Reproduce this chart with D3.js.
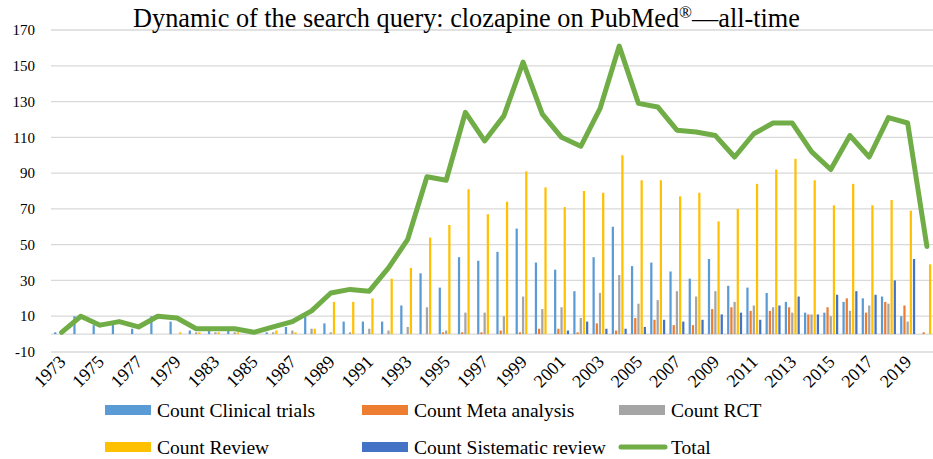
<!DOCTYPE html>
<html lang="en">
<head>
<meta charset="UTF-8">
<title>Dynamic of the search query: clozapine on PubMed</title>
<script src="https://d3js.org/d3.v7.min.js"></script>
<style>
  body { margin: 0; background: #fff; }
  svg { display: block; font-family: "Liberation Serif", "DejaVu Serif", serif; }
  .grid line { stroke: #d9d9d9; stroke-width: 1.3; }
  .axis-label { font-size: 15px; fill: #000; }
  .x-label { font-size: 18px; fill: #000; }
  .legend text { font-size: 19.5px; fill: #000; }
</style>
</head>
<body>
<svg width="933" height="459"></svg>
<script>
  // Datos (faltan 1980 y 1982 en el eje de categorías)
  const years = [1973, 1974, 1975, 1976, 1977, 1978, 1979, 1981, 1983, 1984, 1985, 1986, 1987, 1988,
    1989, 1990, 1991, 1992, 1993, 1994, 1995, 1996, 1997, 1998, 1999, 2000, 2001, 2002, 2003, 2004,
    2005, 2006, 2007, 2008, 2009, 2010, 2011, 2012, 2013, 2014, 2015, 2016, 2017, 2018, 2019, 2020];

  const clinicalTrials = [1, 10, 5, 6, 3, 10, 7, 2, 2, 2, 0, 1, 4, 10,
    6, 7, 7, 7, 16, 34, 26, 43, 41, 46, 59, 40, 36, 24, 43, 60,
    38, 40, 35, 31, 42, 27, 26, 23, 18, 12, 12, 18, 20, 21, 10, 0];
  const metaAnalysis = [0, 0, 0, 0, 0, 0, 0, 0, 0, 0, 0, 0, 0, 0,
    0, 0, 0, 0, 0, 0, 1, 1, 1, 2, 1, 3, 3, 1, 6, 2,
    9, 8, 5, 5, 14, 15, 13, 13, 15, 11, 15, 20, 12, 18, 16, 1];
  const rct = [0, 0, 0, 0, 0, 0, 0, 1, 1, 1, 0, 1, 2, 3,
    1, 1, 3, 2, 4, 15, 2, 12, 12, 10, 21, 14, 15, 9, 23, 33,
    17, 19, 24, 21, 24, 18, 16, 15, 12, 11, 10, 13, 16, 17, 7, 0];
  const review = [0, 0, 0, 0, 0, 0, 1, 1, 1, 1, 0, 2, 1, 3,
    18, 18, 20, 31, 37, 54, 61, 81, 67, 74, 91, 82, 71, 80, 79, 100,
    86, 86, 77, 79, 63, 70, 84, 92, 98, 86, 72, 84, 72, 75, 69, 39];
  const sistematicReview = [0, 0, 0, 0, 0, 0, 0, 0, 0, 0, 0, 0, 0, 0,
    0, 0, 0, 0, 0, 0, 0, 0, 0, 0, 0, 0, 2, 7, 3, 3,
    4, 8, 7, 8, 11, 12, 8, 16, 21, 11, 22, 24, 22, 30, 42, 0];
  const total = [1, 10, 5, 7, 4, 10, 9, 3, 3, 3, 1, 4, 7, 13,
    23, 25, 24, 37, 53, 88, 86, 124, 108, 122, 152, 123, 110, 105, 126, 161,
    129, 127, 114, 113, 111, 99, 112, 118, 118, 102, 92, 111, 99, 121, 118, 49];

  const yTicks = [-10, 10, 30, 50, 70, 90, 110, 130, 150, 170];

  const seriesNames = ["Count Clinical trials", "Count Meta analysis", "Count RCT",
    "Count Review", "Count Sistematic review"];
  const seriesValues = [clinicalTrials, metaAnalysis, rct, review, sistematicReview];
  const colors = ["#5b9bd5", "#ed7d31", "#a5a5a5", "#ffc000", "#4472c4"];
  const totalColor = "#70ad47";

  const svg = d3.select("svg");

  // Área del gráfico (el borde derecho queda recortado como en la imagen original)
  const plot = {left: 52, right: 936.5, top: 30, bottom: 352};

  const x0 = d3.scaleBand()
    .domain(years)
    .range([plot.left, plot.right])
    .padding(0);

  const groupWidth = 15;
  const x1 = d3.scaleBand()
    .domain(seriesNames)
    .range([0, groupWidth])
    .paddingInner(0.3);

  const y = d3.scaleLinear()
    .domain([-10, 170])
    .range([plot.bottom, plot.top]);

  // Líneas de cuadrícula
  const grid = svg.append("g").attr("class", "grid");
  grid.selectAll("line.g")
    .data(yTicks)
    .enter().append("line")
    .attr("class", "g")
    .attr("x1", plot.left - 1)
    .attr("x2", plot.right)
    .attr("y1", d => y(d))
    .attr("y2", d => y(d));

  grid.append("line")
    .attr("x1", plot.left - 1)
    .attr("x2", plot.right)
    .attr("y1", y(0))
    .attr("y2", y(0));

  // Etiquetas del eje Y
  svg.append("g")
    .selectAll("text")
    .data(yTicks)
    .enter().append("text")
    .attr("class", "axis-label")
    .attr("x", 35)
    .attr("y", d => y(d))
    .attr("dy", "0.35em")
    .attr("text-anchor", "end")
    .text(d => d);

  // Barras agrupadas
  const table = years.map((yr, i) => ({
    year: yr,
    values: seriesNames.map((name, k) => ({name: name, value: seriesValues[k][i], color: colors[k]}))
  }));

  const offset = (x0.bandwidth() - groupWidth) / 2;

  svg.append("g")
    .selectAll("g")
    .data(table)
    .enter().append("g")
    .attr("transform", d => `translate(${x0(d.year) + offset},0)`)
    .selectAll("rect")
    .data(d => d.values.filter(v => v.value > 0))
    .enter().append("rect")
    .attr("x", d => x1(d.name))
    .attr("width", x1.bandwidth())
    .attr("y", d => y(d.value))
    .attr("height", d => y(0) - y(d.value))
    .attr("fill", d => d.color);

  // Línea del total
  const line = d3.line()
    .x((d, i) => x0(years[i]) + x0.bandwidth() / 2)
    .y(d => y(d));

  svg.append("path")
    .datum(total)
    .attr("fill", "none")
    .attr("stroke", totalColor)
    .attr("stroke-width", 5)
    .attr("stroke-linejoin", "round")
    .attr("stroke-linecap", "round")
    .attr("d", line);

  // Etiquetas del eje X (una de cada dos categorías, giradas)
  svg.append("g")
    .selectAll("text")
    .data(years.filter((d, i) => i % 2 === 0))
    .enter().append("text")
    .attr("class", "x-label")
    .attr("text-anchor", "end")
    .attr("transform", d => `translate(${x0(d) + x0.bandwidth() / 2 + 5},363) rotate(-45)`)
    .text(d => d);

  // Título
  const title = svg.append("text")
    .attr("x", 466.5)
    .attr("y", 27)
    .attr("text-anchor", "middle")
    .style("font-size", "26px");
  title.append("tspan").text("Dynamic of the search query: clozapine on PubMed");
  title.append("tspan").attr("baseline-shift", "super").style("font-size", "17px").text("®");
  title.append("tspan").text("\u2014all-time");
  const tw = title.node().getComputedTextLength();
  title.style("font-size", (26 * 667 / tw).toFixed(2) + "px");

  // Leyenda
  const legendItems = seriesNames.map((name, k) => ({name: name, color: colors[k], type: "bar"}))
    .concat([{name: "Total", color: totalColor, type: "line"}]);
  const legendX = [105, 362, 619];
  const legendY = [410, 447];

  const legend = svg.selectAll(".legend")
    .data(legendItems)
    .enter().append("g")
    .attr("class", "legend")
    .attr("transform", (d, i) => `translate(${legendX[i % 3]},${legendY[Math.floor(i / 3)]})`);

  legend.filter(d => d.type === "bar").append("rect")
    .attr("x", 0)
    .attr("y", -5)
    .attr("width", 46)
    .attr("height", 10)
    .attr("fill", d => d.color);

  legend.filter(d => d.type === "line").append("line")
    .attr("x1", 2)
    .attr("x2", 46)
    .attr("y1", 0)
    .attr("y2", 0)
    .attr("stroke", d => d.color)
    .attr("stroke-width", 5)
    .attr("stroke-linecap", "round");

  legend.append("text")
    .attr("x", 52)
    .attr("y", 0)
    .attr("dy", "0.35em")
    .text(d => d.name);
</script>
</body>
</html>
